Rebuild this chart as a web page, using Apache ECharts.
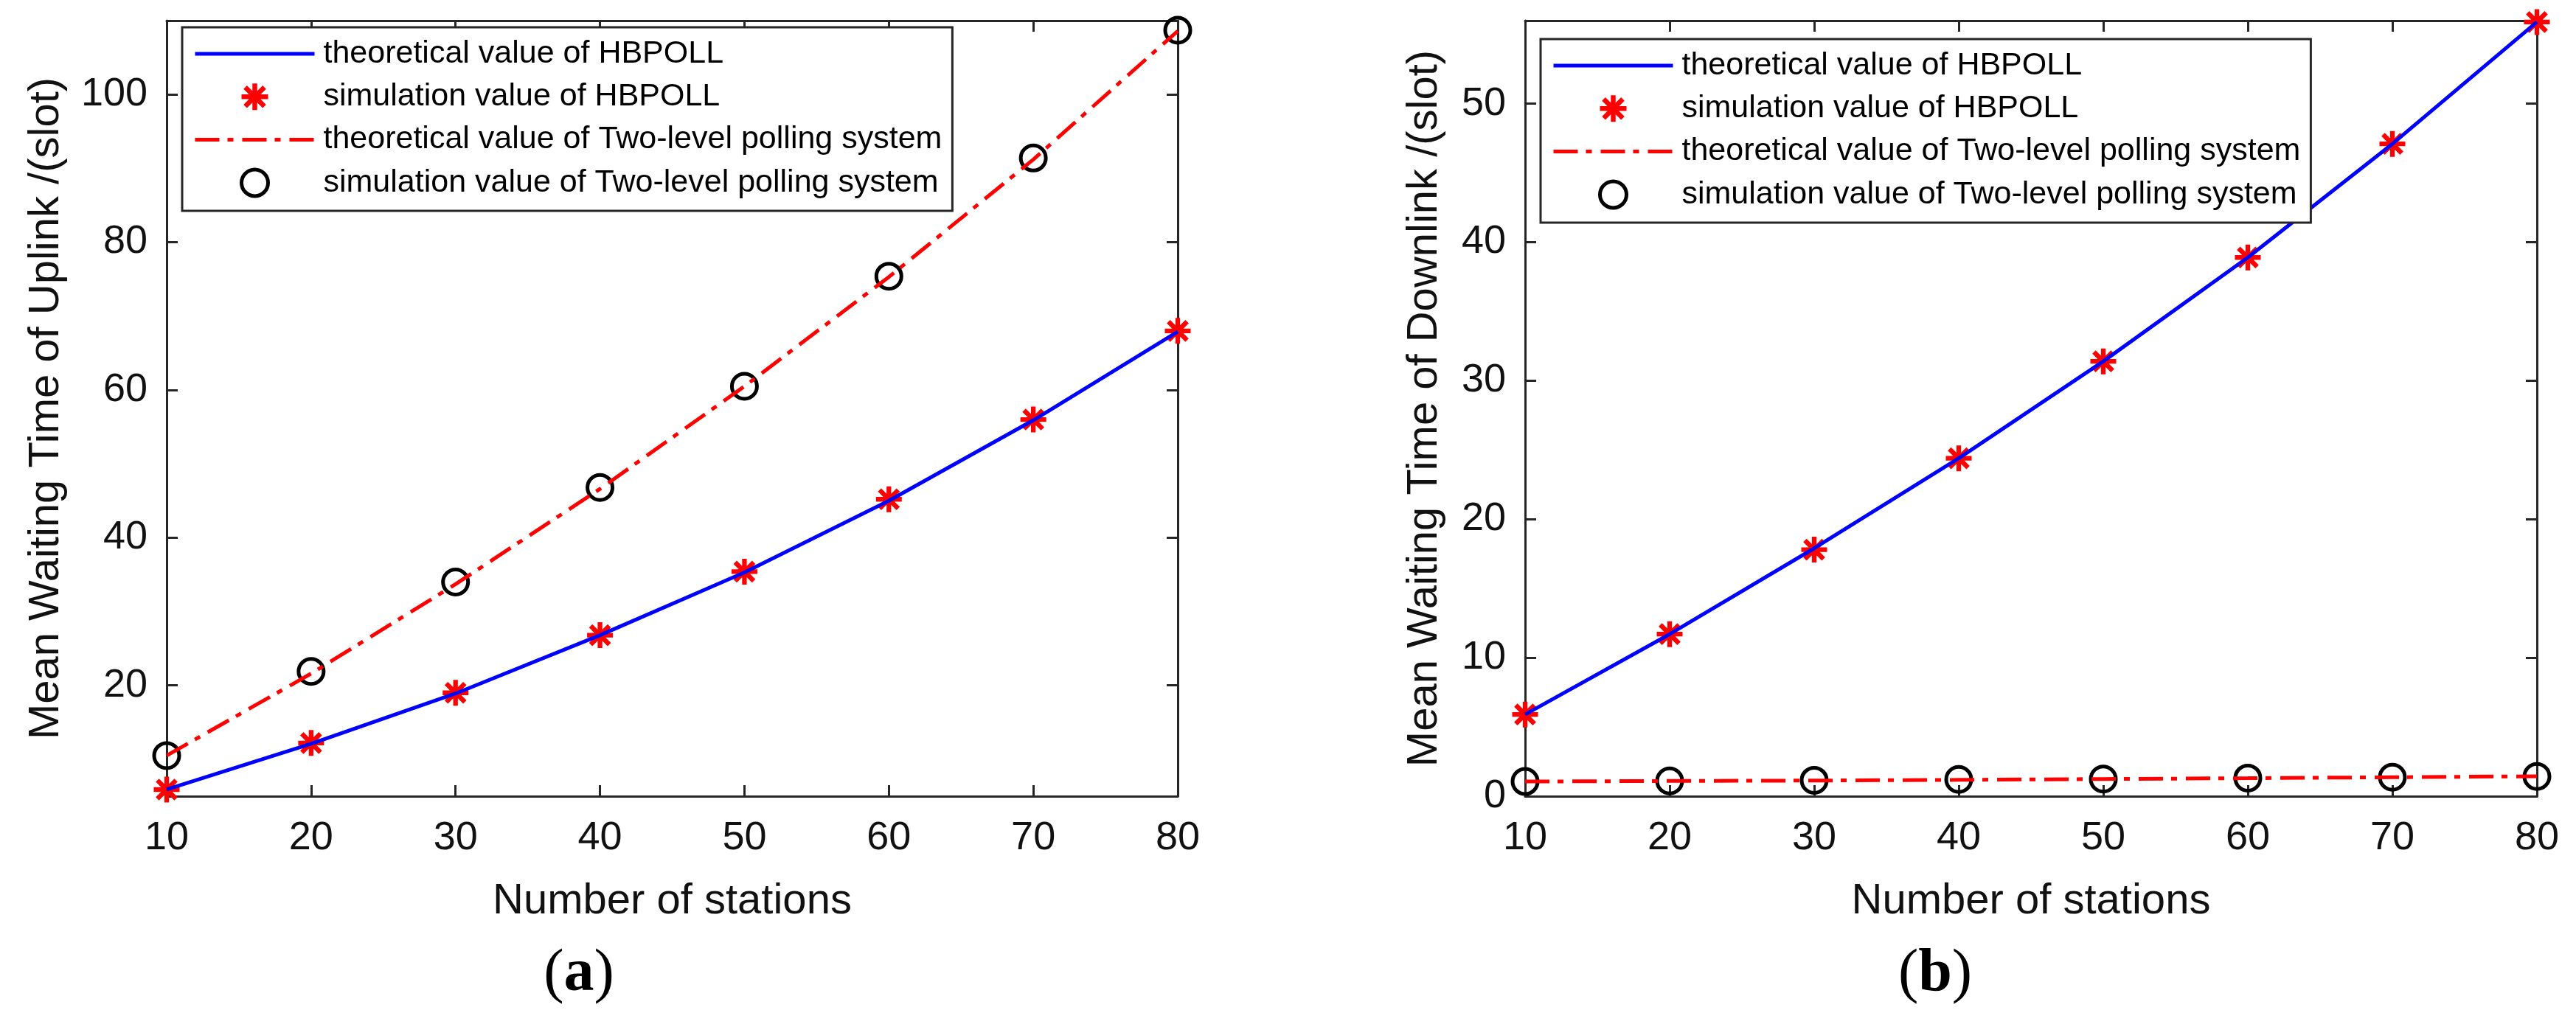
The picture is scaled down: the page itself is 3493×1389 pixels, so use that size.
<!DOCTYPE html>
<html>
<head>
<meta charset="utf-8">
<script src="https://cdn.jsdelivr.net/npm/echarts@6/dist/echarts.min.js"></script>
<style>
  html, body { margin: 0; padding: 0; background: #fff; }
  #main { width: 3493px; height: 1389px; }
</style>
</head>
<body>
<div id="main"></div>
<script>
// number of stations (x axis of both panels)
var stations = [10, 20, 30, 40, 50, 60, 70, 80];

// (a) uplink mean waiting time
var upHbTheory  = [5.9, 12.1, 18.9, 26.8, 35.3, 45.0, 55.9, 67.9];
var upHbSim     = [5.9, 12.2, 19.0, 26.8, 35.4, 45.2, 56.0, 68.0];
var upTwoTheory = [10.5, 21.6, 33.7, 46.6, 60.5, 75.3, 91.2, 108.6];
var upTwoSim    = [10.5, 21.9, 34.0, 46.8, 60.5, 75.4, 91.4, 108.7];

// (b) downlink mean waiting time
var downHbTheory  = [5.9, 11.7, 17.9, 24.4, 31.4, 38.9, 47.1, 55.9];
var downHbSim     = [5.9, 11.7, 17.8, 24.4, 31.4, 38.9, 47.1, 55.9];
var downTwoTheory = [1.06, 1.10, 1.13, 1.18, 1.24, 1.30, 1.37, 1.44];
var downTwoSim    = [1.06, 1.10, 1.15, 1.21, 1.24, 1.31, 1.37, 1.42];

// tick labels
var upTicks = [20, 40, 60, 80, 100];
var downTicks = [0, 10, 20, 30, 40, 50];

var names = [
    'theoretical value of HBPOLL',
    'simulation value of HBPOLL',
    'theoretical value of Two-level polling system',
    'simulation value of Two-level polling system'
];

var FONT = 'Liberation Sans, Arial, sans-serif';
var SERIF = 'Liberation Serif, serif';
var AXIS = '#262626';
// MATLAB style asterisk
var STAR = 'path://M41,0L59,0L59,100L41,100Z M0,41L100,41L100,59L0,59Z ' +
    'M20.4,7.6L92.4,79.6L79.6,92.4L7.6,20.4Z ' +
    'M92.4,20.4L20.4,92.4L7.6,79.6L79.6,7.6Z';
var DASHDOT = [33, 11, 8, 12];
var LW = 5;

var pairs = function (ys) {
    return stations.map(function (s, i) { return [s, ys[i]]; });
};

var xAxisOf = function (gridIndex, pos) {
    return {
        type: 'value', gridIndex: gridIndex, position: pos,
        min: 10, max: 80, interval: 10,
        axisLine: { show: true, onZero: false, lineStyle: { color: AXIS, width: 3 } },
        axisTick: { show: true, inside: true, length: 15, lineStyle: { color: AXIS, width: 3 } },
        axisLabel: { show: pos === 'bottom', margin: 30, fontSize: 54, color: '#111', fontFamily: FONT },
        splitLine: { show: false },
        name: pos === 'bottom' ? 'Number of stations' : '',
        nameLocation: 'middle', nameGap: 114,
        nameTextStyle: { fontSize: 58, color: '#111', fontFamily: FONT }
    };
};

var yAxisOf = function (gridIndex, pos, min, max, ticks, title, gap) {
    return {
        type: 'value', gridIndex: gridIndex, position: pos,
        min: min, max: max,
        axisLine: { show: true, onZero: false, lineStyle: { color: AXIS, width: 3 } },
        axisTick: { show: true, inside: true, length: 15, customValues: ticks, lineStyle: { color: AXIS, width: 3 } },
        axisLabel: { show: pos === 'left', customValues: ticks, margin: 26, fontSize: 54, color: '#111', fontFamily: FONT },
        splitLine: { show: false },
        name: pos === 'left' ? title : '',
        nameLocation: 'middle', nameRotate: 90, nameGap: gap,
        nameTextStyle: { fontSize: 58, color: '#111', fontFamily: FONT }
    };
};

var seriesOf = function (axisIndex, hbT, hbS, twoT, twoS) {
    return [
        {
            name: names[0], type: 'line', xAxisIndex: axisIndex, yAxisIndex: axisIndex,
            symbol: 'none', data: pairs(hbT),
            lineStyle: { color: '#0000ff', width: LW }, itemStyle: { color: '#0000ff' }
        },
        {
            name: names[1], type: 'scatter', xAxisIndex: axisIndex, yAxisIndex: axisIndex,
            symbol: STAR, symbolSize: 35, data: pairs(hbS),
            itemStyle: { color: '#ff0000', opacity: 1 }
        },
        {
            name: names[2], type: 'line', xAxisIndex: axisIndex, yAxisIndex: axisIndex,
            symbol: 'none', data: pairs(twoT),
            lineStyle: { color: '#ff0000', width: LW, type: DASHDOT }, itemStyle: { color: '#ff0000' }
        },
        {
            name: names[3], type: 'scatter', xAxisIndex: axisIndex, yAxisIndex: axisIndex,
            symbol: 'circle', symbolSize: 34, data: pairs(twoS),
            itemStyle: { color: 'transparent', borderColor: '#000', borderWidth: 5, opacity: 1 }
        }
    ];
};

var legendOf = function (left, top) {
    return {
        show: true, orient: 'vertical', left: left, top: top,
        selectedMode: false,
        itemWidth: 162, itemHeight: 36, itemGap: 8.3,
        padding: [11, 14, 13, 15],
        borderColor: AXIS, borderWidth: 3, backgroundColor: '#fff',
        textStyle: { fontSize: 43, lineHeight: 50, color: '#000', fontFamily: FONT, padding: [0, 0, 0, 7] },
        data: [
            { name: names[0], itemStyle: { opacity: 0 }, lineStyle: { color: '#0000ff', width: LW } },
            { name: names[1] },
            { name: names[2], itemStyle: { opacity: 0 }, lineStyle: { color: '#ff0000', width: LW, type: DASHDOT } },
            { name: names[3], itemStyle: { color: 'transparent', borderColor: '#000', borderWidth: 5 } }
        ]
    };
};

var captionOf = function (x, letter) {
    return {
        type: 'text', x: x, y: 1322,
        style: {
            text: '{p|(}{b|' + letter + '}{p|)}', align: 'center', verticalAlign: 'middle',
            rich: {
                p: { fontSize: 82, fontFamily: SERIF, color: '#000' },
                b: { fontSize: 82, fontFamily: SERIF, fontWeight: 'bold', color: '#000' }
            }
        }
    };
};

var myChart = echarts.init(document.getElementById('main'));
var option = {
    animation: false,
    backgroundColor: '#fff',
    grid: [
        { left: 226, top: 28, width: 1371, height: 1052 },
        { left: 2068, top: 28, width: 1372, height: 1052 }
    ],
    xAxis: [
        xAxisOf(0, 'bottom'), xAxisOf(0, 'top'),
        xAxisOf(1, 'bottom'), xAxisOf(1, 'top')
    ],
    yAxis: [
        yAxisOf(0, 'left', 5, 110, upTicks, 'Mean Waiting Time of Uplink /(slot)', 134),
        yAxisOf(0, 'right', 5, 110, upTicks, '', 0),
        yAxisOf(1, 'left', 0, 56, downTicks, 'Mean Waiting Time of Downlink /(slot)', 107),
        yAxisOf(1, 'right', 0, 56, downTicks, '', 0)
    ],
    legend: [legendOf(247, 37), legendOf(2089, 53)],
    series: seriesOf(0, upHbTheory, upHbSim, upTwoTheory, upTwoSim)
        .concat(seriesOf(2, downHbTheory, downHbSim, downTwoTheory, downTwoSim)),
    graphic: [captionOf(785, 'a'), captionOf(2624, 'b')]
};
myChart.setOption(option);
</script>
</body>
</html>
